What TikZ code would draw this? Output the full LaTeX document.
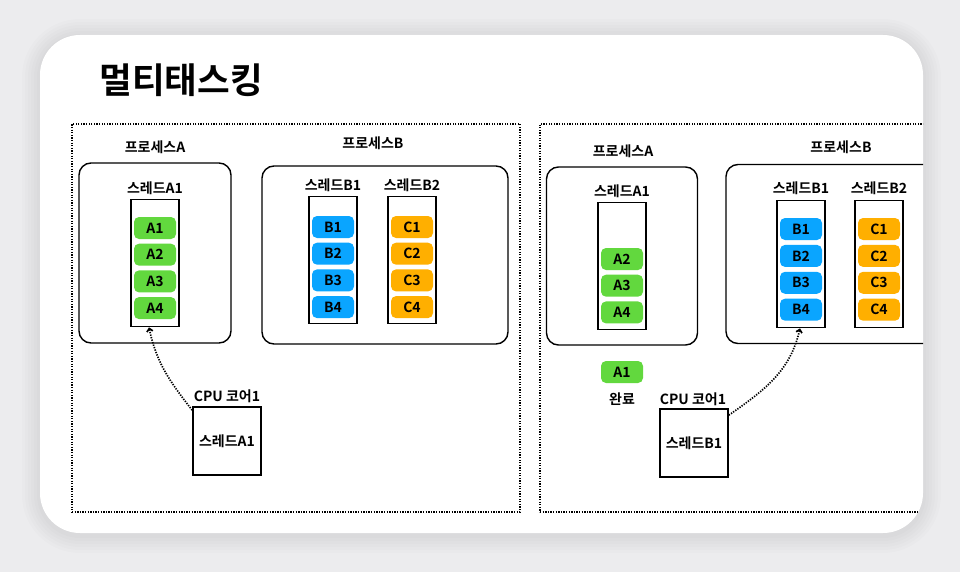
\documentclass[tikz,border=0pt]{standalone}
\usepackage{fontspec}
\setmainfont{Noto Sans CJK KR}[BoldFont={* Bold}]
\usepackage{xcolor}
\usetikzlibrary{arrows.meta, positioning}
\definecolor{bggray}{RGB}{236,236,238}
\definecolor{taskA}{RGB}{98,216,62}
\definecolor{taskB}{RGB}{10,165,255}
\definecolor{taskC}{RGB}{255,175,0}
\tikzset{
  panelbox/.style={draw, line width=1.4pt, dash pattern=on 1.3pt off 1.3pt},
  procbox/.style={draw, rounded corners=12pt, line width=1.4pt},
  threadbox/.style={draw, line width=1.7pt, minimum width=48pt, minimum height=127pt},
  taskbox/.style={rounded corners=5pt, minimum width=42pt, minimum height=22pt,
    inner sep=0pt, font=\bfseries\fontsize{14}{14}\selectfont},
  cpubox/.style={draw, line width=1.7pt, minimum size=68pt,
    font=\bfseries\fontsize{14}{14}\selectfont},
  boxlabel/.style={font=\bfseries\fontsize{14}{14}\selectfont},
  runarrow/.style={-{Straight Barb[length=3pt, width=6pt]}, line width=1.7pt,
    dash pattern=on 1.3pt off 1.3pt},
}
\begin{document}
\begin{tikzpicture}[x=1pt, y=-1pt]
  \useasboundingbox (0,0) rectangle (960,572);
  \fill[bggray] (0,0) rectangle (960,572);

  % soft shadow round the card
  \foreach \s in {18,15,...,3}
    \fill[black, opacity=0.011, rounded corners={40pt+\s pt}]
      ({40-\s},{35-\s+2}) rectangle ({923+\s},{533+\s+2});
  \fill[white, rounded corners=40pt] (40,35) rectangle (923,533);

  \begin{scope}
    \clip[rounded corners=40pt] (40,35) rectangle (923,533);

    \node[font=\bfseries\fontsize{35.5}{35.5}\selectfont, anchor=west] (title) at (96,80) {멀티태스킹};

    % left panel: thread A1 running
    \node[panelbox, minimum width=448pt, minimum height=388pt] (panelL) at (296,318) {};

    \node[procbox, minimum width=152pt, minimum height=180pt] (procA) at (155,253) {};
    \node[boxlabel] (procAlbl) at (155,147) {프로세스A};
    \node[boxlabel] (thrAlbl) at (155,188) {스레드A1};
    \node[threadbox] (thrA) at (155,263) {};
    \foreach \i in {1,...,4}
      \node[taskbox, fill=taskA] (a\i) at (155,{228+26.7*(\i-1)}) {A\i};

    \node[procbox, minimum width=246pt, minimum height=178pt] (procB) at (385,255) {};
    \node[boxlabel] (procBlbl) at (373,143) {프로세스B};
    \node[boxlabel] (thrB1lbl) at (333,185) {스레드B1};
    \node[boxlabel] (thrB2lbl) at (412,185) {스레드B2};
    \node[threadbox] (thrB1) at (333,260) {};
    \node[threadbox] (thrB2) at (412,260) {};
    \foreach \i in {1,...,4} {
      \node[taskbox, fill=taskB] (b\i) at (333,{227+26.7*(\i-1)}) {B\i};
      \node[taskbox, fill=taskC] (c\i) at (412,{227+26.7*(\i-1)}) {C\i};
    }

    \node[boxlabel] (cpuLlbl) at (227,396) {CPU 코어1};
    \node[cpubox] (cpuL) at (227,441) {스레드A1};
    \draw[runarrow] ([yshift=-4pt]cpuL.north west) to[out=128, in=-78] ([xshift=-6pt]thrA.south);

    % right panel: A1 done, thread B1 running
    \node[panelbox, minimum width=470pt, minimum height=388pt] (panelR) at (775,318) {};

    \node[procbox, minimum width=151pt, minimum height=178pt] (procA2) at (622,256) {};
    \node[boxlabel] (procA2lbl) at (623,151) {프로세스A};
    \node[boxlabel] (thrA2lbl) at (622,191) {스레드A1};
    \node[threadbox] (thrA2) at (622,266) {};
    \foreach \i in {2,...,4}
      \node[taskbox, fill=taskA] (a\i r) at (622,{259+26.7*(\i-2)}) {A\i};
    \node[taskbox, fill=taskA] (a1done) at (622,372) {A1};
    \node[boxlabel] (donelbl) at (622,399) {완료};

    \node[procbox, minimum width=260pt, minimum height=179pt] (procB2) at (856,254) {};
    \node[boxlabel] (procB2lbl) at (841,147) {프로세스B};
    \node[boxlabel] (thrB3lbl) at (801,188) {스레드B1};
    \node[boxlabel] (thrB4lbl) at (879,188) {스레드B2};
    \node[threadbox] (thrB3) at (801,264) {};
    \node[threadbox] (thrB4) at (879,264) {};
    \foreach \i in {1,...,4} {
      \node[taskbox, fill=taskB] (b\i r) at (801,{229+26.9*(\i-1)}) {B\i};
      \node[taskbox, fill=taskC] (c\i r) at (879,{229+26.9*(\i-1)}) {C\i};
    }

    \node[boxlabel] (cpuRlbl) at (693,399) {CPU 코어1};
    \node[cpubox] (cpuR) at (694,443) {스레드B1};
    \draw[runarrow] ([yshift=-7pt]cpuR.north east) to[out=35, in=-103] ([xshift=-1pt]thrB3.south);
  \end{scope}
\end{tikzpicture}
\end{document}
